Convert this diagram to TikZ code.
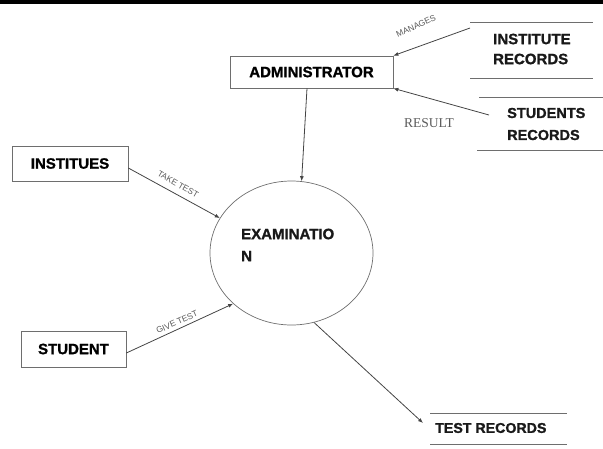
\documentclass[tikz,border=0pt]{standalone}
\usepackage{fontspec}
\setmainfont{Liberation Sans}[BoldFeatures={FakeBold=1.2}]
\newfontfamily\serifx{Liberation Serif}
\usetikzlibrary{arrows.meta,shapes.geometric}
\definecolor{linec}{HTML}{444444}
\definecolor{boxc}{HTML}{6E6E6E}
\definecolor{labc}{HTML}{5A5A5A}
\tikzset{
  entity/.style={draw=boxc, line width=0.7pt, inner sep=0pt, font=\bfseries\fontsize{15}{18}\selectfont},
  proc/.style={draw=boxc, line width=0.7pt, ellipse, inner sep=0pt},
  btext/.style={inner sep=0pt, anchor=west, align=left, text=black!90},
  storeline/.style={draw=boxc, line width=0.8pt},
  flow/.style={draw=linec, line width=0.8pt, -{Latex[length=5pt,width=4pt]}},
  flab/.style={inner sep=0pt, text=labc, font=\fontsize{8.5}{10}\selectfont}
}
\begin{document}
\begin{tikzpicture}[x=1pt,y=-1pt]
\useasboundingbox (0,0) rectangle (603,448);
\fill[black] (0,0) rectangle (603,4);

% entities
\node[entity, minimum width=163pt, minimum height=32pt] (admin) at (311.5,72) {ADMINISTRATOR};
\node[entity, minimum width=116pt, minimum height=35pt] (inst) at (70,163.5) {INSTITUES};
\node[entity, minimum width=105pt, minimum height=36pt] (stud) at (73.5,349) {STUDENT};

% process
\node[proc, minimum width=163pt, minimum height=144pt] (exam) at (291.5,253) {};
\node[btext, font=\bfseries\fontsize{15}{18}\selectfont] (examA) at (241,234) {EXAMINATIO};
\node[btext, font=\bfseries\fontsize{15}{18}\selectfont] (examB) at (241,256) {N};

% data stores
\draw[storeline] (470,22) -- (593,22);
\draw[storeline] (470,78) -- (593,78);
\node[btext, font=\bfseries\fontsize{15}{20}\selectfont] (instrec) at (493,49) {INSTITUTE\\RECORDS};
\draw[storeline] (479,97) -- (603,97);
\draw[storeline] (477,150) -- (603,150);
\node[btext, font=\bfseries\fontsize{14.5}{22}\selectfont] (studrec) at (507,124) {STUDENTS\\RECORDS};
\draw[storeline] (430,413) -- (567,413);
\draw[storeline] (430,444) -- (567,444);
\node[btext, font=\bfseries\fontsize{14.2}{17}\selectfont] (testrec) at (435,428) {TEST RECORDS};

\coordinate (instrecIn) at (470,28);
\coordinate (studrecOut) at (489,115);
\coordinate (testrecIn) at (423,423);

% flows
\draw[flow] (instrecIn) -- (admin.north east);
\draw[flow] (studrecOut) -- (admin.south east);
\draw[flow] ([xshift=-4.5pt]admin.south) -- (exam.82);
\draw[flow] ([yshift=-4.5pt]inst.east) -- (exam.154);
\draw[flow] ([yshift=-4pt]stud.east) -- (exam.221);
\draw[flow] (exam.288) -- (testrecIn);

% labels
\node[flab, rotate=25] (lmanages) at (416,26) {MANAGES};
\node[inner sep=0pt, text=labc, font=\serifx\fontsize{13.5}{15}\selectfont] (lresult) at (429,123) {RESULT};
\node[flab, rotate=-30] (ltake) at (178,184) {TAKE TEST};
\node[flab, rotate=24] (lgive) at (177,322) {GIVE TEST};
\end{tikzpicture}
\end{document}
